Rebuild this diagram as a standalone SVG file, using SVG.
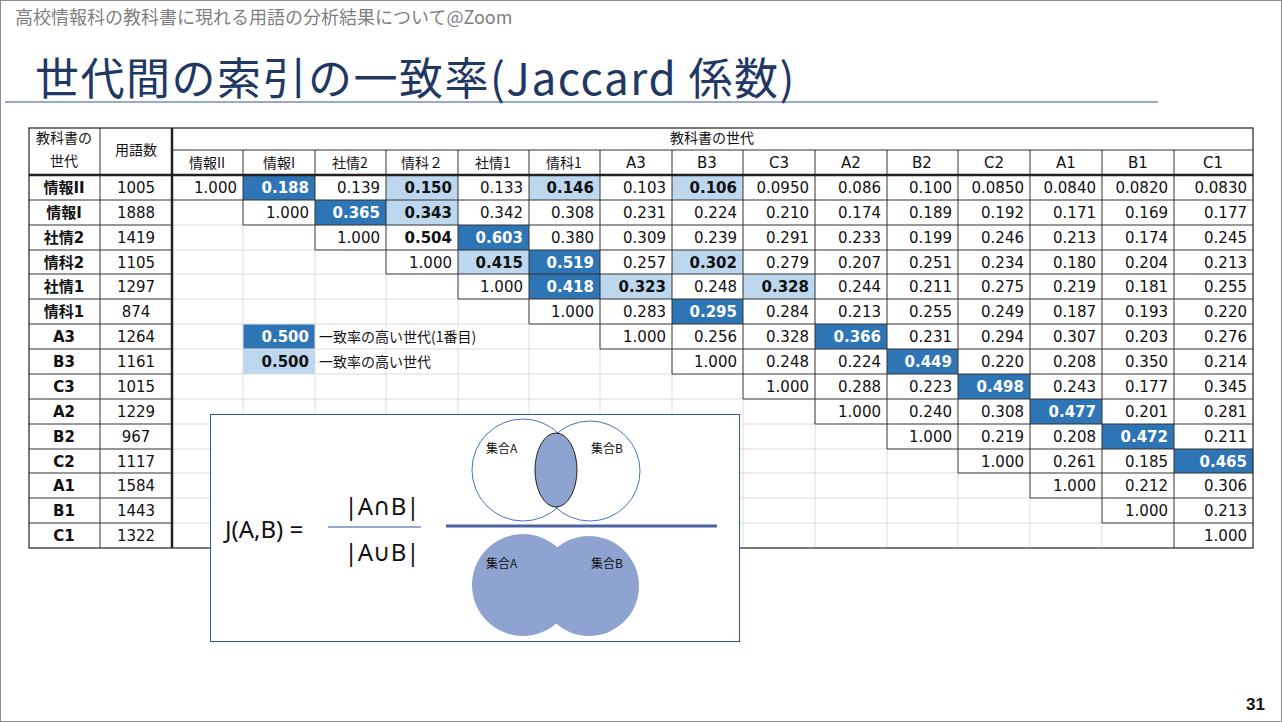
<svg xmlns="http://www.w3.org/2000/svg" width="1282" height="722" viewBox="0 0 1282 722">
<style>
.n{font-family:"DejaVu Sans","Noto Sans CJK JP",sans-serif;font-size:15px;text-anchor:end;fill:#111}
.c{font-family:"DejaVu Sans","Noto Sans CJK JP",sans-serif;font-size:15px;text-anchor:middle;fill:#111}
.h{font-family:"Noto Sans CJK JP",sans-serif;font-size:14px;text-anchor:middle;fill:#111}
.lb{font-family:"DejaVu Sans","Noto Sans CJK JP",sans-serif;font-size:15px;text-anchor:middle;font-weight:bold;fill:#111}
.w{fill:#fff;font-weight:bold}
.b{font-weight:bold}
.dk{stroke:#333;stroke-width:1}
.lt{stroke:#dcdcdc;stroke-width:1}
.d{fill:#2E75B6}
.l{fill:#BDD7EE}
.v{font-family:"Noto Sans CJK JP",sans-serif;font-size:12px;fill:#111}
.f{font-family:"Noto Sans","DejaVu Sans",sans-serif;font-size:24px;fill:#111}
</style>
<rect width="1282" height="722" fill="#fff"/>
<rect x="0.5" y="0.5" width="1281" height="721" fill="none" stroke="#8c8c8c"/>
<g id="header">
<text x="15" y="24" font-family="Noto Sans CJK JP,sans-serif" font-size="18" fill="#7f7f7f">高校情報科の教科書に現れる用語の分析結果について@Zoom</text>
<text x="35" y="95" font-family="Noto Sans CJK JP,sans-serif" font-size="44" letter-spacing="1.5" fill="#1F3864">世代間の索引の一致率(Jaccard 係数)</text>
<line x1="5" y1="102" x2="1158" y2="102" stroke="#2F5597" stroke-width="1"/>
<text x="1265" y="710" text-anchor="end" font-family="Liberation Sans,sans-serif" font-size="17" font-weight="bold" fill="#111">31</text>
</g>
<g id="table">
<rect x="29" y="128" width="1224" height="420" fill="#fff"/>
<g id="fills">
<rect class="d" x="243" y="175" width="72" height="25"/><rect class="d" x="315" y="200" width="71" height="25"/>
<rect class="d" x="458" y="225" width="71" height="25"/><rect class="d" x="529" y="250" width="71" height="24"/>
<rect class="d" x="529" y="274" width="71" height="25"/><rect class="d" x="672" y="299" width="71" height="25"/>
<rect class="d" x="815" y="324" width="72" height="25"/><rect class="d" x="887" y="349" width="71" height="25"/>
<rect class="d" x="958" y="374" width="72" height="25"/><rect class="d" x="1030" y="399" width="72" height="25"/>
<rect class="d" x="1102" y="424" width="72" height="25"/><rect class="d" x="1174" y="449" width="79" height="24"/>
<rect class="d" x="243" y="324" width="72" height="25"/>
<rect class="l" x="386" y="175" width="72" height="25"/><rect class="l" x="529" y="175" width="71" height="25"/>
<rect class="l" x="672" y="175" width="71" height="25"/><rect class="l" x="386" y="200" width="72" height="25"/>
<rect class="l" x="458" y="250" width="71" height="24"/><rect class="l" x="672" y="250" width="71" height="24"/>
<rect class="l" x="600" y="274" width="72" height="25"/><rect class="l" x="743" y="274" width="72" height="25"/>
<rect class="l" x="243" y="349" width="72" height="25"/>
</g>
<g id="grid">
<path class="lt" fill="none" d="M243 225V548M315 250V548M386 274V548M458 299V548M529 324V548M600 349V548M672 374V548M743 399V548M815 424V548M887 449V548M958 473V548M1030 498V548M1102 523V548
M172 225H243M172 250H315M172 274H386M172 299H458M172 324H529M172 349H600M172 374H672M172 399H743M172 424H815M172 449H887M172 473H958M172 498H1030M172 523H1102"/>
<path class="dk" fill="none" d="M243 150V225M315 150V250M386 150V274M458 150V299M529 150V324M600 150V349M672 150V374M743 150V399M815 150V424M887 150V449M958 150V473M1030 150V498M1102 150V523M1174 150V548
M172 150H1253M172 200H1253M243 225H1253M315 250H1253M386 274H1253M458 299H1253M529 324H1253M600 349H1253M672 374H1253M743 399H1253M815 424H1253M887 449H1253M958 473H1253M1030 498H1253M1102 523H1253
M100 128V548M29 200H172M29 225H172M29 250H172M29 274H172M29 299H172M29 324H172M29 349H172M29 374H172M29 399H172M29 424H172M29 449H172M29 473H172M29 498H172M29 523H172"/>
<rect x="29" y="128" width="1224" height="420" fill="none" stroke="#222" stroke-width="1.2"/>
<line x1="172" y1="128" x2="172" y2="548" stroke="#222" stroke-width="2.5"/>
<line x1="29" y1="175" x2="1253" y2="175" stroke="#222" stroke-width="2.5"/>
</g>
<g id="headers">
<text class="h" x="64" y="143" font-size="12">教科書の</text>
<text class="h" x="64" y="166" font-size="12">世代</text>
<text class="h" x="136" y="155" font-size="12">用語数</text>
<text class="h" x="712" y="143" font-size="12">教科書の世代</text>
<text class="h" x="207" y="168">情報II</text><text class="h" x="279" y="168">情報I</text><text class="h" x="350" y="168">社情2</text><text class="h" x="422" y="168">情科２</text><text class="h" x="493" y="168">社情1</text><text class="h" x="564" y="168">情科1</text>
<text class="c" x="636" y="168">A3</text><text class="c" x="707" y="168">B3</text><text class="c" x="779" y="168">C3</text><text class="c" x="851" y="168">A2</text><text class="c" x="922" y="168">B2</text><text class="c" x="994" y="168">C2</text><text class="c" x="1066" y="168">A1</text><text class="c" x="1138" y="168">B1</text><text class="c" x="1213" y="168">C1</text>
</g>
<g id="rowlabels">
<text class="lb" x="64" y="193">情報II</text><text class="c" x="136" y="193">1005</text>
<text class="lb" x="64" y="218">情報I</text><text class="c" x="136" y="218">1888</text>
<text class="lb" x="64" y="243">社情2</text><text class="c" x="136" y="243">1419</text>
<text class="lb" x="64" y="268">情科2</text><text class="c" x="136" y="268">1105</text>
<text class="lb" x="64" y="292">社情1</text><text class="c" x="136" y="292">1297</text>
<text class="lb" x="64" y="317">情科1</text><text class="c" x="136" y="317">874</text>
<text class="lb" x="64" y="342">A3</text><text class="c" x="136" y="342">1264</text>
<text class="lb" x="64" y="367">B3</text><text class="c" x="136" y="367">1161</text>
<text class="lb" x="64" y="392">C3</text><text class="c" x="136" y="392">1015</text>
<text class="lb" x="64" y="417">A2</text><text class="c" x="136" y="417">1229</text>
<text class="lb" x="64" y="442">B2</text><text class="c" x="136" y="442">967</text>
<text class="lb" x="64" y="467">C2</text><text class="c" x="136" y="467">1117</text>
<text class="lb" x="64" y="491">A1</text><text class="c" x="136" y="491">1584</text>
<text class="lb" x="64" y="516">B1</text><text class="c" x="136" y="516">1443</text>
<text class="lb" x="64" y="541">C1</text><text class="c" x="136" y="541">1322</text>
</g>
<g id="values">
<text class="n" x="237" y="193">1.000</text><text class="n w" x="309" y="193">0.188</text><text class="n" x="380" y="193">0.139</text><text class="n b" x="452" y="193">0.150</text><text class="n" x="523" y="193">0.133</text><text class="n b" x="594" y="193">0.146</text><text class="n" x="666" y="193">0.103</text><text class="n b" x="737" y="193">0.106</text><text class="n" x="809" y="193">0.0950</text><text class="n" x="881" y="193">0.086</text><text class="n" x="952" y="193">0.100</text><text class="n" x="1024" y="193">0.0850</text><text class="n" x="1096" y="193">0.0840</text><text class="n" x="1168" y="193">0.0820</text><text class="n" x="1247" y="193">0.0830</text>
<text class="n" x="309" y="218">1.000</text><text class="n w" x="380" y="218">0.365</text><text class="n b" x="452" y="218">0.343</text><text class="n" x="523" y="218">0.342</text><text class="n" x="594" y="218">0.308</text><text class="n" x="666" y="218">0.231</text><text class="n" x="737" y="218">0.224</text><text class="n" x="809" y="218">0.210</text><text class="n" x="881" y="218">0.174</text><text class="n" x="952" y="218">0.189</text><text class="n" x="1024" y="218">0.192</text><text class="n" x="1096" y="218">0.171</text><text class="n" x="1168" y="218">0.169</text><text class="n" x="1247" y="218">0.177</text>
<text class="n" x="380" y="243">1.000</text><text class="n b" x="452" y="243">0.504</text><text class="n w" x="523" y="243">0.603</text><text class="n" x="594" y="243">0.380</text><text class="n" x="666" y="243">0.309</text><text class="n" x="737" y="243">0.239</text><text class="n" x="809" y="243">0.291</text><text class="n" x="881" y="243">0.233</text><text class="n" x="952" y="243">0.199</text><text class="n" x="1024" y="243">0.246</text><text class="n" x="1096" y="243">0.213</text><text class="n" x="1168" y="243">0.174</text><text class="n" x="1247" y="243">0.245</text>
<text class="n" x="452" y="268">1.000</text><text class="n b" x="523" y="268">0.415</text><text class="n w" x="594" y="268">0.519</text><text class="n" x="666" y="268">0.257</text><text class="n b" x="737" y="268">0.302</text><text class="n" x="809" y="268">0.279</text><text class="n" x="881" y="268">0.207</text><text class="n" x="952" y="268">0.251</text><text class="n" x="1024" y="268">0.234</text><text class="n" x="1096" y="268">0.180</text><text class="n" x="1168" y="268">0.204</text><text class="n" x="1247" y="268">0.213</text>
<text class="n" x="523" y="292">1.000</text><text class="n w" x="594" y="292">0.418</text><text class="n b" x="666" y="292">0.323</text><text class="n" x="737" y="292">0.248</text><text class="n b" x="809" y="292">0.328</text><text class="n" x="881" y="292">0.244</text><text class="n" x="952" y="292">0.211</text><text class="n" x="1024" y="292">0.275</text><text class="n" x="1096" y="292">0.219</text><text class="n" x="1168" y="292">0.181</text><text class="n" x="1247" y="292">0.255</text>
<text class="n" x="594" y="317">1.000</text><text class="n" x="666" y="317">0.283</text><text class="n w" x="737" y="317">0.295</text><text class="n" x="809" y="317">0.284</text><text class="n" x="881" y="317">0.213</text><text class="n" x="952" y="317">0.255</text><text class="n" x="1024" y="317">0.249</text><text class="n" x="1096" y="317">0.187</text><text class="n" x="1168" y="317">0.193</text><text class="n" x="1247" y="317">0.220</text>
<text class="n" x="666" y="342">1.000</text><text class="n" x="737" y="342">0.256</text><text class="n" x="809" y="342">0.328</text><text class="n w" x="881" y="342">0.366</text><text class="n" x="952" y="342">0.231</text><text class="n" x="1024" y="342">0.294</text><text class="n" x="1096" y="342">0.307</text><text class="n" x="1168" y="342">0.203</text><text class="n" x="1247" y="342">0.276</text>
<text class="n" x="737" y="367">1.000</text><text class="n" x="809" y="367">0.248</text><text class="n" x="881" y="367">0.224</text><text class="n w" x="952" y="367">0.449</text><text class="n" x="1024" y="367">0.220</text><text class="n" x="1096" y="367">0.208</text><text class="n" x="1168" y="367">0.350</text><text class="n" x="1247" y="367">0.214</text>
<text class="n" x="809" y="392">1.000</text><text class="n" x="881" y="392">0.288</text><text class="n" x="952" y="392">0.223</text><text class="n w" x="1024" y="392">0.498</text><text class="n" x="1096" y="392">0.243</text><text class="n" x="1168" y="392">0.177</text><text class="n" x="1247" y="392">0.345</text>
<text class="n" x="881" y="417">1.000</text><text class="n" x="952" y="417">0.240</text><text class="n" x="1024" y="417">0.308</text><text class="n w" x="1096" y="417">0.477</text><text class="n" x="1168" y="417">0.201</text><text class="n" x="1247" y="417">0.281</text>
<text class="n" x="952" y="442">1.000</text><text class="n" x="1024" y="442">0.219</text><text class="n" x="1096" y="442">0.208</text><text class="n w" x="1168" y="442">0.472</text><text class="n" x="1247" y="442">0.211</text>
<text class="n" x="1024" y="467">1.000</text><text class="n" x="1096" y="467">0.261</text><text class="n" x="1168" y="467">0.185</text><text class="n w" x="1247" y="467">0.465</text>
<text class="n" x="1096" y="491">1.000</text><text class="n" x="1168" y="491">0.212</text><text class="n" x="1247" y="491">0.306</text>
<text class="n" x="1168" y="516">1.000</text><text class="n" x="1247" y="516">0.213</text>
<text class="n" x="1247" y="541">1.000</text>
</g>
<g id="legend">
<rect x="316" y="328" width="210" height="18" fill="#fff"/>
<rect x="316" y="353" width="130" height="18" fill="#fff"/>
<text class="n w" x="309" y="342">0.500</text>
<text class="n b" x="309" y="367">0.500</text>
<text x="319" y="342" font-family="Noto Sans CJK JP,sans-serif" font-size="14" fill="#111">一致率の高い世代(1番目)</text>
<text x="319" y="367" font-family="Noto Sans CJK JP,sans-serif" font-size="14" fill="#111">一致率の高い世代</text>
</g>
</g>
<g id="jaccard">
<rect x="210.5" y="414.5" width="529" height="227" fill="#fff" stroke="#2F5597" stroke-width="1"/>
<circle cx="523" cy="470" r="51" fill="none" stroke="#4472C4" stroke-width="1"/>
<circle cx="590" cy="471" r="50" fill="none" stroke="#4472C4" stroke-width="1"/>
<ellipse cx="556" cy="470" rx="21" ry="37" fill="#8FA3D1" stroke="#222" stroke-width="1"/>
<text class="v" x="486" y="453">集合A</text><text class="v" x="591" y="453">集合B</text>
<line x1="446" y1="526" x2="717" y2="526" stroke="#4A62A0" stroke-width="3"/>
<circle cx="523" cy="585" r="51" fill="#8FA3D1"/>
<circle cx="589" cy="586" r="50" fill="#8FA3D1"/>
<text class="v" x="486" y="568">集合A</text><text class="v" x="591" y="568">集合B</text>
<text class="f" x="225" y="538">J(A,B) =</text>
<text class="f" x="382" y="515" text-anchor="middle">|A∩B|</text>
<line x1="328" y1="527" x2="421" y2="527" stroke="#2F5597" stroke-width="1"/>
<text class="f" x="382" y="561" text-anchor="middle">|A∪B|</text>
</g>
</svg>
